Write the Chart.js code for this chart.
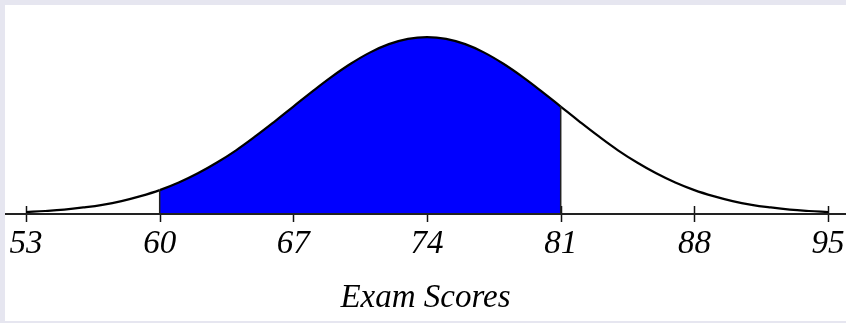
<!DOCTYPE html>
<html>
<head>
<meta charset="utf-8">
<script src="https://cdn.jsdelivr.net/npm/chart.js@4.4.0/dist/chart.umd.min.js"></script>
<style>
  body { margin: 0; background: #e6e6f0; width: 846px; height: 323px; overflow: hidden; }
  #box { position: absolute; left: 5px; top: 5px; width: 841px; height: 316px; background: #fff; }
</style>
</head>
<body>
<div id="box"><canvas id="myChart" width="841" height="316"></canvas></div>
<script>
// exam scores and curve height (peak = 1)
const scores = [53, 54, 55, 56, 57, 58, 59, 60, 61, 62, 63, 64, 65, 66, 67, 68, 69, 70, 71, 72, 73, 74,
                75, 76, 77, 78, 79, 80, 81, 82, 83, 84, 85, 86, 87, 88, 89, 90, 91, 92, 93, 94, 95];
const density = [0.011, 0.017, 0.025, 0.037, 0.052, 0.073, 0.101, 0.135, 0.178, 0.230, 0.291, 0.360,
                 0.438, 0.521, 0.607, 0.693, 0.775, 0.849, 0.912, 0.960, 0.990, 1.000,
                 0.990, 0.960, 0.912, 0.849, 0.775, 0.693, 0.607, 0.521, 0.438, 0.360, 0.291,
                 0.230, 0.178, 0.135, 0.101, 0.073, 0.052, 0.037, 0.025, 0.017, 0.011];
const tickValues = [53, 60, 67, 74, 81, 88, 95];
const shadeFrom = 60;
const shadeTo = 81;

const curvePoints = scores.map((s, i) => ({x: s, y: density[i]}));
const edgeLine = s => [{x: s, y: 0}, {x: s, y: density[scores.indexOf(s)]}];

const serif = '"Liberation Serif", "DejaVu Serif", serif';

const axisPlugin = {
    id: 'axisPlugin',
    beforeDatasetsDraw(chart) {
        const {ctx, chartArea, scales: {x}} = chart;
        ctx.save();
        ctx.strokeStyle = '#111';
        ctx.lineWidth = 1.5;
        tickValues.forEach(v => {
            const px = Math.round(x.getPixelForValue(v)) + 0.5;
            ctx.beginPath();
            ctx.moveTo(px, chartArea.bottom - 8);
            ctx.lineTo(px, chartArea.bottom + 8);
            ctx.stroke();
        });
        ctx.restore();
    },
    afterDatasetsDraw(chart) {
        const {ctx, chartArea} = chart;
        ctx.save();
        ctx.strokeStyle = '#222';
        ctx.lineWidth = 2;
        ctx.beginPath();
        ctx.moveTo(0, chartArea.bottom);
        ctx.lineTo(chart.width, chartArea.bottom);
        ctx.stroke();
        ctx.restore();
    }
};

const ctx = document.getElementById('myChart');
const myChart = new Chart(ctx, {
    type: 'line',
    data: {
        datasets: [{
            data: edgeLine(shadeFrom),
            borderColor: '#222',
            borderWidth: 1.5,
            pointRadius: 0,
            fill: false,
            tension: 0
        }, {
            data: edgeLine(shadeTo),
            borderColor: '#222',
            borderWidth: 1.5,
            pointRadius: 0,
            fill: false,
            tension: 0
        }, {
            data: curvePoints,
            borderColor: '#000',
            borderWidth: 2.2,
            pointRadius: 0,
            tension: 0.4,
            fill: 'origin',
            backgroundColor: 'rgba(0,0,0,0)',
            segment: {
                backgroundColor: c => (scores[c.p0DataIndex] >= shadeFrom && scores[c.p1DataIndex] <= shadeTo) ? '#0000ff' : 'rgba(0,0,0,0)'
            }
        }]
    },
    options: {
        responsive: false,
        animation: false,
        devicePixelRatio: 1,
        layout: { padding: 0 },
        plugins: { legend: { display: false }, tooltip: { enabled: false } },
        scales: {
            x: {
                type: 'linear',
                min: 51.9,
                max: 95.94,
                afterBuildTicks: axis => { axis.ticks = tickValues.map(v => ({value: v})); },
                afterFit: axis => {
                    axis.height = 107;
                    axis.paddingLeft = 0;
                    axis.paddingRight = 0;
                },
                grid: { display: false, drawTicks: false },
                border: { display: false },
                ticks: {
                    color: '#000',
                    padding: 11,
                    maxRotation: 0,
                    font: { family: serif, style: 'italic', size: 33 }
                },
                title: {
                    display: true,
                    text: 'Exam Scores',
                    color: '#000',
                    padding: { top: 0, bottom: 3 },
                    font: { family: serif, style: 'italic', size: 33 }
                }
            },
            y: {
                display: false,
                min: 0,
                max: 1.181
            }
        }
    },
    plugins: [axisPlugin]
});
</script>
</body>
</html>
